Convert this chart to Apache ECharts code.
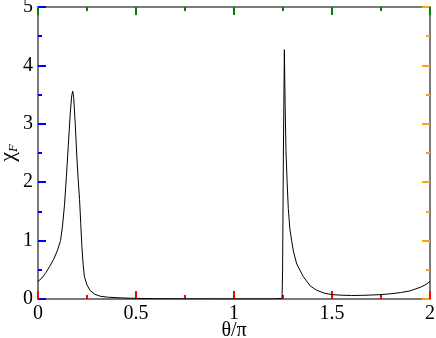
<!DOCTYPE html>
<html>
<head>
<meta charset="utf-8">
<script src="https://cdn.jsdelivr.net/npm/echarts@6/dist/echarts.min.js"></script>
<style>
  html, body { margin: 0; padding: 0; background: #fff; }
  #chart { width: 436px; height: 338px; }
</style>
</head>
<body>
<div id="chart"></div>
<script>
// theta/pi values and chi_F
const thetaVals = [
  0, 0.02, 0.04, 0.06, 0.08, 0.10, 0.115, 0.125, 0.135, 0.145, 0.155, 0.165, 0.172, 0.177,
  0.182, 0.19, 0.198, 0.205, 0.212, 0.218, 0.224, 0.23, 0.237, 0.25, 0.265, 0.29,
  0.32, 0.36, 0.42, 0.5, 0.6, 0.8, 1.0, 1.2, 1.245, 1.248, 1.252, 1.257,
  1.261, 1.265, 1.271, 1.277, 1.285, 1.295, 1.303, 1.32, 1.354, 1.39, 1.422,
  1.46, 1.5, 1.55, 1.6, 1.65, 1.7, 1.75, 1.8, 1.85, 1.9, 1.95, 1.98, 2.0
]
const chiVals = [
  0.30, 0.36, 0.45, 0.56, 0.68, 0.84, 1.0, 1.25, 1.6, 2.1, 2.65, 3.2, 3.48, 3.56,
  3.45, 3.0, 2.45, 2.05, 1.7, 1.3, 0.9, 0.6, 0.38, 0.24, 0.15, 0.08,
  0.045, 0.03, 0.02, 0.01, 0.005, 0.002, 0.001, 0.001, 0.01, 0.5, 2.5, 4.27,
  3.3, 2.56, 2.0, 1.55, 1.2, 0.98, 0.82, 0.6, 0.38, 0.22, 0.15,
  0.1, 0.075, 0.065, 0.06, 0.062, 0.068, 0.075, 0.09, 0.11, 0.14, 0.2, 0.25, 0.30
]

const serif = 'Liberation Serif'
const axisGrey = '#7a7a7a'

const chart = echarts.init(document.getElementById('chart'))

// grid 0: bottom/left with labels; grid 1 (same box): top/right ticks only
function boxAxis(grid, pos, min, max, interval, showLabel, tickColor) {
  const ax = {
    type: 'value',
    gridIndex: grid,
    position: pos,
    min: min,
    max: max,
    interval: interval,
    axisLine: { show: true, lineStyle: { color: axisGrey, width: 2 } },
    axisTick: { show: true, inside: true, length: 8, lineStyle: { color: tickColor, width: 2 } },
    minorTick: { show: true, splitNumber: 2, length: 4, lineStyle: { color: tickColor, width: 2 } },
    splitLine: { show: false },
    axisLabel: {
      show: showLabel,
      color: '#000',
      fontFamily: serif,
      fontSize: 20,
      margin: 5
    }
  }
  if (!showLabel) ax.axisLine.onZero = false
  return ax
}

const xBottom = boxAxis(0, 'bottom', 0, 2, 0.5, true, 'red')
xBottom.name = 'θ/π'
xBottom.nameLocation = 'middle'
xBottom.nameGap = 22
xBottom.nameMoveOverlap = false
xBottom.nameTextStyle = { color: '#000', fontFamily: serif, fontSize: 20 }

const yLeft = boxAxis(0, 'left', 0, 5, 1, true, 'blue')
yLeft.name = '{a|χ}{b|F}'
yLeft.nameLocation = 'middle'
yLeft.nameGap = 18
yLeft.nameMoveOverlap = false
yLeft.nameRotate = 90
yLeft.nameTextStyle = {
  rich: {
    a: { color: '#000', fontFamily: serif, fontSize: 22 },
    b: { color: '#000', fontFamily: serif, fontSize: 13, fontStyle: 'italic', verticalAlign: 'bottom', padding: [10, 0, 0, 0] }
  }
}

const box = { left: 38, right: 6, top: 7, bottom: 39, outerBoundsMode: 'none' }

chart.setOption({
  animation: false,
  backgroundColor: '#fff',
  grid: [Object.assign({}, box), Object.assign({}, box)],
  xAxis: [xBottom, boxAxis(1, 'top', 0, 2, 0.5, false, 'green')],
  yAxis: [yLeft, boxAxis(1, 'right', 0, 5, 1, false, 'orange')],
  series: [{
    type: 'line',
    xAxisIndex: 0,
    yAxisIndex: 0,
    symbol: 'none',
    lineStyle: { color: '#000', width: 1 },
    data: thetaVals.map((t, i) => [t, chiVals[i]])
  }]
})
</script>
</body>
</html>
